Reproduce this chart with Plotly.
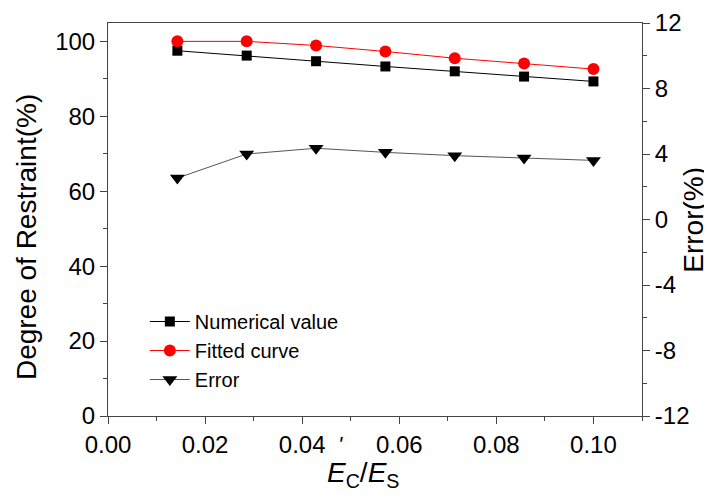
import plotly.graph_objects as go

# Data
x_ratio = [0.01429, 0.02857, 0.04286, 0.05714, 0.07143, 0.08571, 0.10000]
numerical = [97.5, 96.2, 94.7, 93.3, 92.0, 90.6, 89.3]
fitted = [100.0, 100.0, 98.9, 97.3, 95.5, 94.1, 92.6]
error = [2.53, 4.00, 4.35, 4.10, 3.90, 3.76, 3.61]

x_ticks = [0.00, 0.02, 0.04, 0.06, 0.08, 0.10]
x_ticktext = ["0.00", "0.02", "0.04", "0.06", "0.08", "0.10"]
y_ticks = [0, 20, 40, 60, 80, 100]
y2_ticks = [-12, -8, -4, 0, 4, 8, 12]
y2_ticktext = ["-12", "-8", "-4", "0", "4", "8", "12"]

FONT = "Liberation Sans, Arial, sans-serif"
AX = "#444444"

fig = go.Figure()
fig.add_trace(go.Scatter(
    x=x_ratio, y=numerical, name="Numerical value", mode="lines+markers",
    line=dict(color="black", width=1),
    marker=dict(symbol="square", size=10, color="black"),
))
fig.add_trace(go.Scatter(
    x=x_ratio, y=fitted, name="Fitted curve", mode="lines+markers",
    line=dict(color="#ff0000", width=1),
    marker=dict(symbol="circle", size=12, color="#ff0000"),
))
fig.add_trace(go.Scatter(
    x=x_ratio, y=error, name="Error", mode="lines+markers", yaxis="y2",
    line=dict(color="#555555", width=1),
    marker=dict(symbol="triangle-down", size=13, color="black"),
))

fig.update_layout(
    width=704, height=490,
    margin=dict(l=100, r=70, t=15, b=82, autoexpand=False),
    paper_bgcolor="white", plot_bgcolor="white",
    font=dict(family=FONT, color="black"),
    showlegend=True,
    legend=dict(
        x=0.069, y=0.29, xanchor="left", yanchor="top",
        bgcolor="rgba(0,0,0,0)", font=dict(size=20, family=FONT),
        itemwidth=40, tracegroupgap=0,
    ),
    xaxis=dict(
        range=[0, 0.11], tickvals=x_ticks, ticktext=x_ticktext,
        showgrid=False, zeroline=False,
        showline=True, linecolor=AX, linewidth=1, mirror=True,
        ticks="outside", ticklen=7, tickcolor=AX,
        tickfont=dict(size=24, family=FONT),
        minor=dict(dtick=0.01, tick0=0, ticks="outside", ticklen=4, tickcolor=AX),
    ),
    yaxis=dict(
        range=[0, 104.9], tickvals=y_ticks,
        showgrid=False, zeroline=False,
        showline=True, linecolor=AX, linewidth=1,
        ticks="outside", ticklen=7, tickcolor=AX,
        tickfont=dict(size=24, family=FONT),
        minor=dict(dtick=10, tick0=0, ticks="outside", ticklen=4, tickcolor=AX),
    ),
    yaxis2=dict(
        range=[-12, 12], tickvals=y2_ticks, ticktext=y2_ticktext,
        overlaying="y", side="right",
        showgrid=False, zeroline=False,
        showline=True, linecolor=AX, linewidth=1,
        ticks="outside", ticklen=7, tickcolor=AX,
        tickfont=dict(size=24, family=FONT),
        minor=dict(dtick=2, tick0=0, ticks="outside", ticklen=4, tickcolor=AX),
    ),
)

# Axis titles
fig.add_annotation(
    text="Degree of Restraint(%)", xref="paper", yref="paper",
    x=-0.153, y=0.456, xanchor="center", yanchor="middle",
    textangle=-90, showarrow=False, font=dict(size=28, family=FONT),
)
fig.add_annotation(
    text="Error(%)", xref="paper", yref="paper",
    x=1.096, y=0.5, xanchor="center", yanchor="middle",
    textangle=-90, showarrow=False, font=dict(size=28, family=FONT),
)
fig.add_annotation(
    text="<i>E</i><sub>C</sub>/<i>E</i><sub>S</sub>", xref="paper", yref="paper",
    x=0.478, y=-0.10, xanchor="center", yanchor="top",
    showarrow=False, font=dict(size=28, family=FONT),
)
fig.add_annotation(
    text="<i>'</i>", xref="paper", yref="paper",
    x=0.435, y=-0.073, xanchor="center", yanchor="middle",
    showarrow=False, font=dict(size=22, family=FONT),
)

fig.write_html("out.html")
